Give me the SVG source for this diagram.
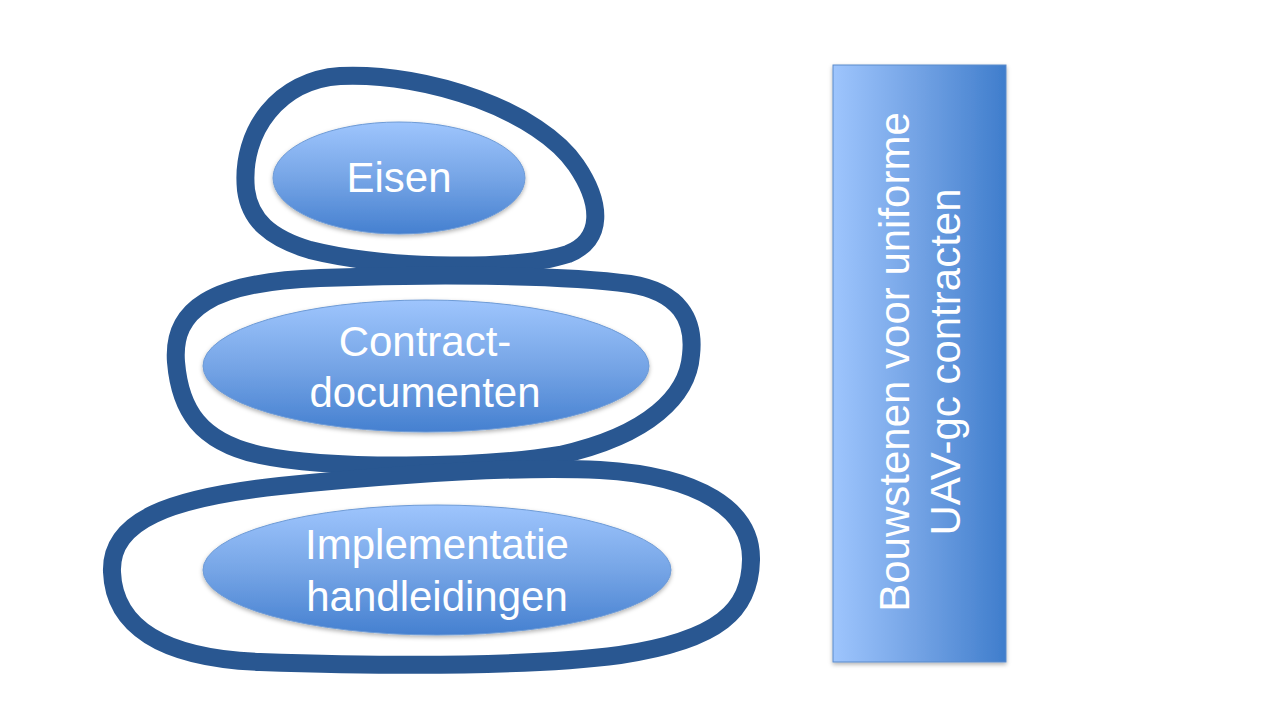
<svg xmlns="http://www.w3.org/2000/svg" width="1280" height="720" viewBox="0 0 1280 720">
  <defs>
    <linearGradient id="gEll" x1="0" y1="0" x2="0" y2="1">
      <stop offset="0" stop-color="#9EC5FD"/>
      <stop offset="0.5" stop-color="#76A5E6"/>
      <stop offset="1" stop-color="#4580D0"/>
    </linearGradient>
    <linearGradient id="gRect" x1="0" y1="0" x2="1" y2="0">
      <stop offset="0" stop-color="#9EC5FD"/>
      <stop offset="0.5" stop-color="#72A2E4"/>
      <stop offset="1" stop-color="#3F7DCC"/>
    </linearGradient>
    <filter id="shadow" x="-10%" y="-10%" width="120%" height="130%">
      <feDropShadow dx="0" dy="2" stdDeviation="2" flood-color="#000" flood-opacity="0.3"/>
    </filter>
  </defs>
  <style>
    .stone { fill: none; stroke: #295791; stroke-width: 18; stroke-linejoin: round; }
    .ell { fill: url(#gEll); stroke: #6E9BD6; stroke-width: 1; filter: url(#shadow); }
    .lbl { font-family: "Liberation Sans", Arial, sans-serif; font-size: 42px; fill: #FFFFFF; text-anchor: middle; }
  </style>
  <rect width="1280" height="720" fill="#FFFFFF"/>

  <g id="stones">
    <path class="stone" d="M 246 190 C 240 130, 280 80, 340 76 C 430 72, 540 112, 576 165 C 602 203, 604 240, 568 254 C 520 270, 390 270, 310 250 C 270 238, 250 220, 246 190 Z"/>
    <path class="stone" d="M 176 362 C 172 310, 210 282, 320 278 C 420 274, 560 274, 630 284 C 680 292, 695 320, 691 355 C 688 395, 650 435, 560 455 C 480 468, 330 470, 260 455 C 200 442, 180 410, 176 362 Z"/>
    <path class="stone" d="M 112 572 C 110 520, 170 498, 280 486 C 400 474, 520 466, 600 470 C 700 476, 752 510, 751 560 C 750 610, 720 640, 620 655 C 520 668, 380 666, 260 662 C 160 658, 114 625, 112 572 Z"/>
  </g>

  <g id="node-eisen">
    <ellipse class="ell" cx="399" cy="178" rx="126" ry="56"/>
    <text class="lbl" x="399" y="192">Eisen</text>
  </g>

  <g id="node-contractdocumenten">
    <ellipse class="ell" cx="426" cy="366" rx="223" ry="66"/>
    <text class="lbl" x="425" y="356">Contract-</text>
    <text class="lbl" x="425" y="407">documenten</text>
  </g>

  <g id="node-implementatie">
    <ellipse class="ell" cx="437" cy="570" rx="234" ry="65"/>
    <text class="lbl" x="437" y="559">Implementatie</text>
    <text class="lbl" x="437" y="611">handleidingen</text>
  </g>

  <g id="node-bouwstenen">
    <rect x="833" y="65" width="173" height="597" fill="url(#gRect)" stroke="#5B8BCB" stroke-width="1" filter="url(#shadow)"/>
    <text class="lbl" transform="translate(909,362) rotate(-90)">Bouwstenen voor uniforme</text>
    <text class="lbl" transform="translate(960,362) rotate(-90)">UAV-gc contracten</text>
  </g>

  <g id="connectors"></g>
</svg>
